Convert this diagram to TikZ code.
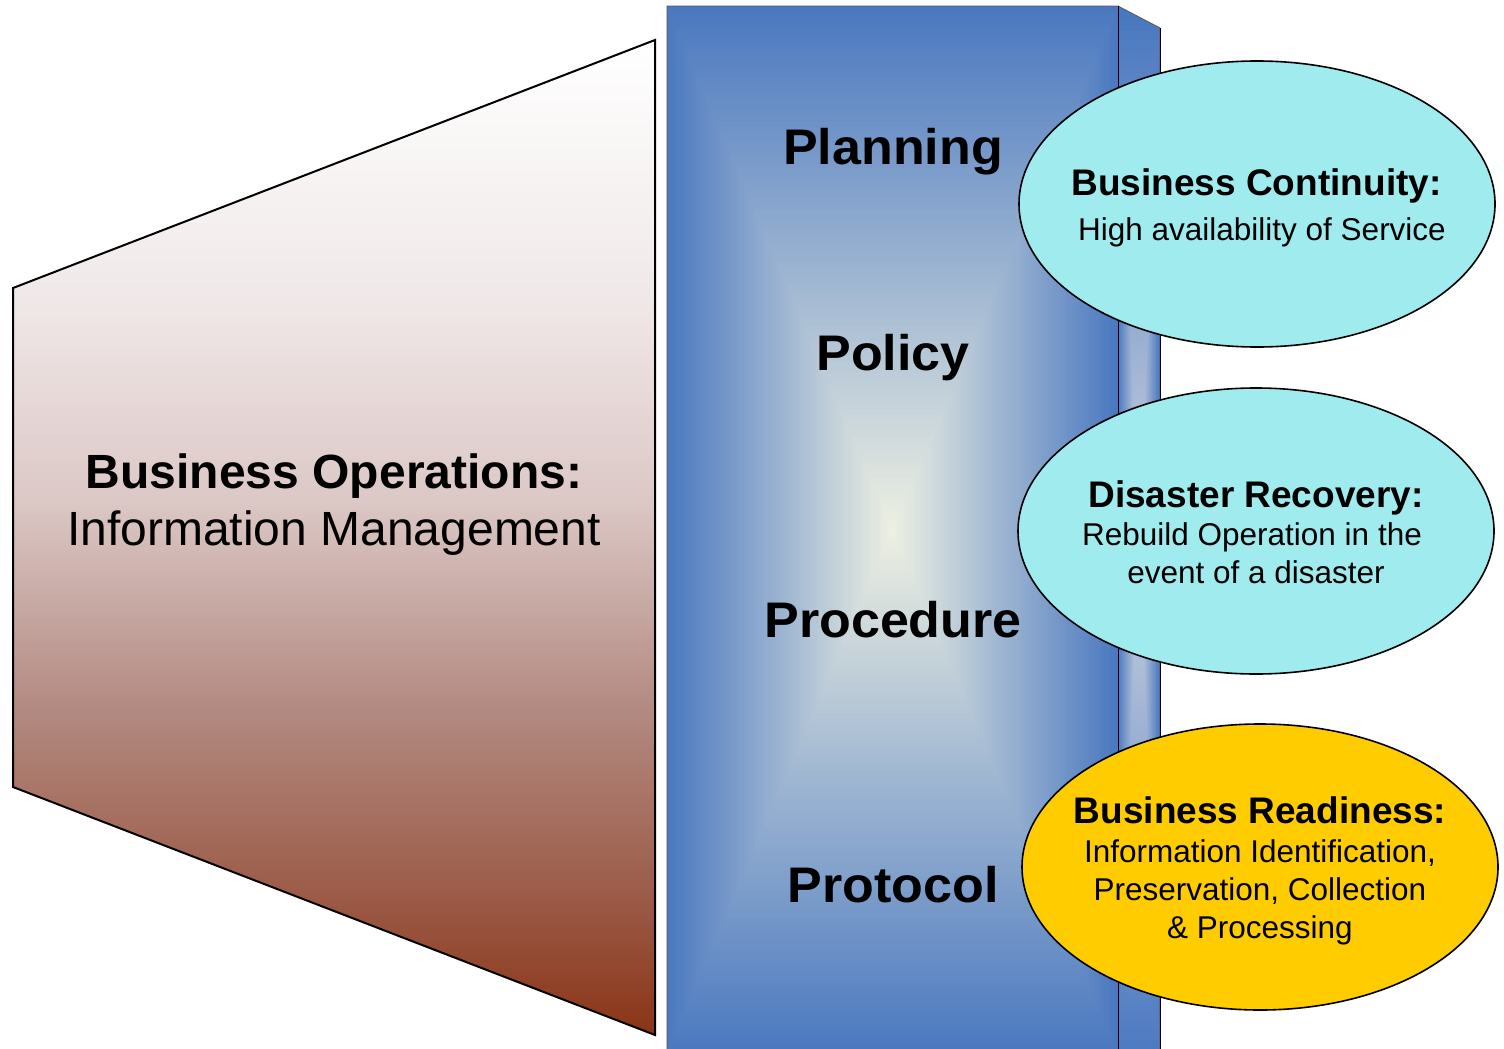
\documentclass[tikz,border=0pt]{standalone}
\usepackage{fontspec}
\setmainfont{Liberation Sans}
\usepackage{graphicx}
\usetikzlibrary{shapes.geometric}
\definecolor{pblue}{RGB}{74,120,192}
\definecolor{ppale}{RGB}{238,240,226}
\definecolor{sidepale}{RGB}{205,212,222}
\definecolor{ecyan}{RGB}{160,235,238}
\definecolor{eyellow}{RGB}{255,204,0}
\definecolor{tA}{RGB}{138,52,22}
\definecolor{tB}{RGB}{155,90,70}
\definecolor{tC}{RGB}{180,140,132}
\definecolor{tD}{RGB}{220,200,198}
\definecolor{tE}{RGB}{240,232,232}
\definecolor{tF}{RGB}{255,255,255}
\pgfdeclareverticalshading{trapshade}{100bp}{color(0bp)=(tA); color(25bp)=(tA); color(31.8bp)=(tB); color(41.8bp)=(tC); color(51.9bp)=(tD); color(61.9bp)=(tE); color(75bp)=(tF); color(100bp)=(tF)}
\tikzset{
  pillarlabel/.style={font=\fontsize{50}{58}\selectfont\bfseries, anchor=base, inner sep=0pt},
  bighead/.style={font=\fontsize{48}{58}\selectfont\bfseries, anchor=base, inner sep=0pt},
  bigtext/.style={font=\fontsize{48}{58}\selectfont, anchor=base, inner sep=0pt},
  ehead/.style={font=\fontsize{37}{44}\selectfont\bfseries, anchor=base, inner sep=0pt},
  etext/.style={font=\fontsize{31.5}{38}\selectfont, anchor=base, inner sep=0pt},
  bubble/.style={ellipse, draw=black, line width=1.6pt, minimum width=476pt, minimum height=286pt, inner sep=0pt},
}
\begin{document}
\begin{tikzpicture}[x=1pt,y=-1pt]
\useasboundingbox (0,0) rectangle (1504,1049);
% left trapezoid
\shadedraw[shading=trapshade, draw=black, line width=2pt, line join=miter]
  (13,288) -- (655,40) -- (655,1035) -- (13,787) -- cycle;
\node[bighead] (bo) at (334,488) {Business Operations:};
\node[bigtext] (im) at (334,545) {Information Management};
% pillar front face
\begin{scope}
\clip (667,6) rectangle (1118,1054);
\foreach \i in {0,...,99}{
  \pgfmathsetmacro{\f}{1-\i/100}
  \fill[ppale!\i!pblue] ({892.5-225.5*\f},{530-524*\f}) rectangle ({892.5+225.5*\f},{530+524*\f});
}
\end{scope}
% pillar side face
\begin{scope}
\clip (1118,6) -- (1160,28) -- (1160,1080) -- (1118,1080) -- cycle;
\fill[pblue] (1110,0) rectangle (1170,1080);
\foreach \i in {0,...,99}{
  \pgfmathsetmacro{\f}{1-\i/100}
  \fill[sidepale!\i!pblue] ({1139-21*\f},{540-525*\f}) rectangle ({1139+21*\f},{540+525*\f});
}
\end{scope}
\draw[line width=0.8pt, black!65] (667,1060) -- (667,6) -- (1118,6) -- (1160,28) -- (1160,1060);
\draw[line width=0.9pt, black] (1118,6) -- (1118,1060);
\draw[line width=0.9pt, black] (1160,28) -- (1160,1060);
% pillar labels
\node[pillarlabel] (plan) at (893,164) {\scalebox{1.04}[1]{Planning}};
\node[pillarlabel] (poli) at (893,370) {\scalebox{1.04}[1]{Policy}};
\node[pillarlabel] (proc) at (893,637) {\scalebox{1.04}[1]{Procedure}};
\node[pillarlabel] (prot) at (893,902) {\scalebox{1.04}[1]{Protocol}};
% bubbles
\node[bubble, fill=ecyan] (e1) at (1257,204) {};
\node[bubble, fill=ecyan] (e2) at (1256,531) {};
\node[bubble, fill=eyellow] (e3) at (1260,867) {};
\node[ehead] (e1a) at (1256.5,195) {Business Continuity:};
\node[etext] (e1b) at (1262,240) {High availability of Service};
\node[ehead] (e2a) at (1256,507) {Disaster Recovery:};
\node[etext] (e2b) at (1252,545) {Rebuild Operation in the};
\node[etext] (e2c) at (1256,583) {event of a disaster};
\node[ehead] (e3a) at (1260,823) {Business Readiness:};
\node[etext] (e3b) at (1260,862) {Information Identification,};
\node[etext] (e3c) at (1260,900) {Preservation, Collection};
\node[etext] (e3d) at (1260,938) {\& Processing};
\end{tikzpicture}
\end{document}
